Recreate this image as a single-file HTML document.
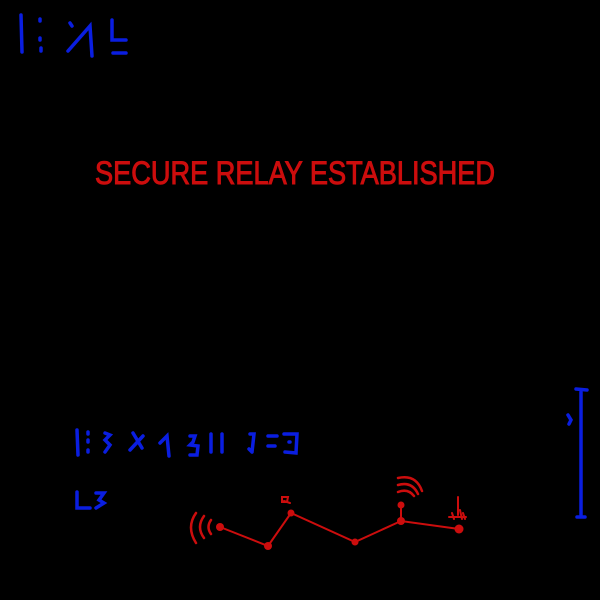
<!DOCTYPE html>
<html><head><style>html,body{margin:0;background:#000;width:600px;height:600px;overflow:hidden}</style></head>
<body>
<svg width="600" height="600" viewBox="0 0 600 600" xmlns="http://www.w3.org/2000/svg">
<rect width="600" height="600" fill="#000"/>
<g stroke="#0a1ee0" stroke-width="3.5" stroke-linecap="round" fill="none">
<path d="M21 15 L22 52"/>
<path d="M40 19 L40 21 M40 38 L40 40 M41 48 L41 51"/>
<path d="M70 23 L72 26 M68 51 L90 26 L92 56"/>
<path d="M112 20 L112 40 L126 40 M113 53 L126 53"/>
<path d="M77 430 L78 455 M88 432 L88 434 M88 440 L88 442 M88 450 L88 452"/>
<path d="M105 433 L110 435 L105 440 L110 445 L105 452"/>
<path d="M133 433 L142 448 M130 450 L143 436"/>
<path d="M160 443 L167 436 L169 456"/>
<path d="M190 436 L195 436 L193 442 L190 445 L198 446 L197 455 L190 455"/>
<path d="M211 434 L211 452 M222 434 L222 452"/>
<path d="M250 434 L254 434 L252 452 M249 449 L252 452"/>
<path d="M268 436 L277 436 M268 446 L275 446"/>
<path d="M284 434 L297 434 L296 453 L285 452 M289 442 L290 442"/>
<path d="M77 492 L77 508 L90 508 M96 493 L104 493 L99 500 L104 503 L96 508"/>
<path d="M576 389 L587 390 M581 392 L581 516 M577 517 L585 517"/>
<path d="M568 415 L571 420 L569 424"/>
</g>
<text x="95" y="184" fill="#cc0d0d" stroke="#cc0d0d" stroke-width="1" font-family="Liberation Sans, sans-serif" font-size="32" textLength="400" lengthAdjust="spacingAndGlyphs">SECURE RELAY ESTABLISHED</text>
<g stroke="#cc0d0d" stroke-width="2" fill="none" stroke-linecap="round">
<polyline points="220,527 268,546 291,513 355,542 401,521 459,529"/>
<path d="M401 521 L401 505"/>
<path d="M398 492 Q408 488 414 496 M398 485 Q412 481 418 494 M398 478 Q416 474 422 491" stroke-width="2.5"/>
<path d="M196 513 Q186 527 196 543 M204 516 Q196 527 204 538 M211 520 Q206 527 211 534" stroke-width="2.5"/>
<path d="M282 497 L288 497 L287 502 L282 502 Z M284 501 L290 503"/>
<path d="M458 497 L458 515 M454 519 L452 513 M449 517 L466 517 M460 510 L462 519 M463 513 L465 519"/>
</g>
<g fill="#cc0d0d">
<circle cx="220" cy="527" r="4"/><circle cx="268" cy="546" r="4"/><circle cx="291" cy="513" r="3.5"/>
<circle cx="355" cy="542" r="3.5"/><circle cx="401" cy="521" r="4"/><circle cx="401" cy="505" r="3.5"/><circle cx="459" cy="529" r="4.5"/>
</g>
</svg>
</body></html>
